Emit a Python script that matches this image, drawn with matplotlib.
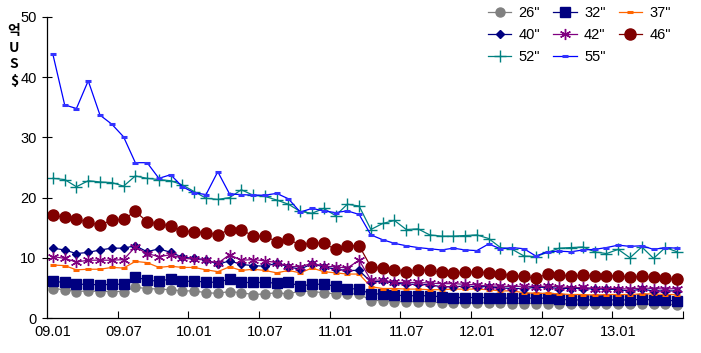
import matplotlib
matplotlib.use("Agg")
import matplotlib.pyplot as plt
from matplotlib.ticker import FixedLocator, NullFormatter, FixedFormatter

months = ["09.01", "09.07", "10.01", "10.07", "11.01", "11.07", "12.01", "12.07", "13.01"]

s26 = [4.9, 4.7, 4.4, 4.5, 4.4, 4.4, 4.4, 5.1, 4.9, 4.8, 4.7, 4.5, 4.5, 4.2, 4.1, 4.4, 4.2, 3.9,
       4.0, 4.2, 4.0, 4.5, 4.4, 4.2, 4.0, 4.0, 4.0, 2.9, 2.9, 2.7, 2.7, 2.7, 2.7, 2.5, 2.5, 2.5,
       2.5, 2.5, 2.5, 2.4, 2.4, 2.4, 2.4, 2.4, 2.3, 2.3, 2.3, 2.3, 2.3, 2.3, 2.3, 2.3, 2.3, 2.2]
s32 = [6.1, 5.9, 5.6, 5.6, 5.5, 5.6, 5.6, 6.8, 6.3, 6.1, 6.5, 6.1, 6.1, 6.0, 5.9, 6.5, 5.9, 5.9,
       5.9, 5.8, 5.9, 5.3, 5.6, 5.6, 5.3, 4.9, 4.8, 4.0, 4.0, 3.8, 3.7, 3.7, 3.7, 3.5, 3.4, 3.4,
       3.4, 3.4, 3.3, 3.3, 3.3, 3.3, 3.3, 3.1, 3.0, 3.0, 3.0, 3.0, 3.0, 3.0, 3.1, 3.0, 3.0, 2.8]
s37 = [8.8, 8.7, 8.0, 8.1, 8.1, 8.4, 8.3, 9.4, 9.2, 8.4, 8.6, 8.4, 8.4, 8.0, 7.7, 8.5, 7.9, 8.1,
       7.9, 7.5, 7.9, 7.5, 8.3, 7.7, 7.5, 7.3, 7.3, 5.2, 4.9, 4.9, 4.8, 4.8, 4.7, 4.7, 4.8, 4.8,
       4.8, 4.7, 4.5, 4.5, 4.2, 4.1, 4.1, 4.0, 3.9, 3.9, 3.8, 3.9, 3.9, 3.9, 4.0, 4.0, 3.9, 3.9]
s40 = [11.6, 11.3, 10.7, 10.9, 11.3, 11.6, 11.6, 12.0, 11.0, 11.5, 10.9, 10.1, 9.9, 9.7, 8.9, 9.5, 8.9, 8.7,
       8.6, 9.1, 8.5, 8.1, 9.0, 8.5, 8.1, 7.9, 7.9, 6.0, 6.1, 5.8, 5.6, 5.6, 5.5, 5.2, 5.2, 5.3,
       5.2, 5.2, 5.0, 4.9, 4.9, 5.1, 5.1, 4.9, 4.9, 4.9, 4.8, 4.8, 4.7, 4.5, 4.8, 4.5, 4.5, 4.5]
s42 = [10.2, 9.9, 9.3, 9.6, 9.6, 9.6, 9.7, 11.8, 10.7, 10.2, 10.5, 9.9, 9.8, 9.6, 9.1, 10.5, 9.6, 9.7,
       9.5, 9.2, 8.6, 8.5, 9.1, 8.6, 8.5, 8.3, 9.6, 6.3, 6.3, 5.9, 5.9, 5.9, 5.8, 5.7, 5.7, 5.6,
       5.5, 5.3, 5.3, 5.2, 5.3, 5.2, 5.3, 5.2, 5.0, 5.1, 4.9, 4.9, 4.9, 4.8, 5.0, 4.9, 4.8, 4.9]
s46 = [17.1, 16.7, 16.4, 15.9, 15.4, 16.3, 16.4, 17.7, 16.0, 15.6, 15.3, 14.5, 14.3, 14.2, 13.8, 14.7, 14.7, 13.6,
       13.6, 12.7, 13.1, 12.1, 12.5, 12.4, 11.4, 12.0, 12.0, 8.5, 8.3, 8.0, 7.7, 8.0, 7.9, 7.6, 7.4, 7.6,
       7.7, 7.5, 7.3, 7.0, 6.9, 6.6, 7.3, 7.1, 7.0, 7.1, 7.0, 7.0, 7.0, 6.8, 6.9, 6.8, 6.6, 6.4]
s52 = [23.2, 23.0, 21.8, 22.8, 22.6, 22.5, 21.9, 23.6, 23.2, 23.0, 22.8, 22.1, 21.0, 19.9, 19.7, 20.0, 21.3, 20.4,
       20.2, 19.6, 18.9, 17.7, 17.4, 18.2, 17.0, 18.9, 18.6, 14.7, 15.7, 16.2, 14.7, 14.8, 13.8, 13.6, 13.6, 13.7,
       13.8, 13.2, 11.7, 11.4, 10.3, 10.2, 10.9, 11.6, 11.7, 11.8, 11.0, 10.7, 11.4, 10.0, 11.8, 9.9, 11.7, 11.0]
s55 = [43.8, 35.4, 34.8, 39.4, 33.7, 32.2, 30.1, 25.8, 25.8, 23.2, 23.8, 21.8, 20.8, 20.5, 24.3, 20.6, 20.5, 20.4,
       20.4, 20.7, 19.8, 17.6, 18.2, 17.8, 17.5, 17.8, 17.2, 13.8, 13.0, 12.4, 12.0, 11.7, 11.5, 11.3, 11.6, 11.3,
       11.2, 12.3, 11.5, 11.7, 11.5, 10.3, 11.0, 11.1, 11.0, 11.3, 11.4, 11.7, 12.1, 11.9, 12.0, 11.4, 11.7, 11.6]

series = [
    ('26"', s26, dict(color="#808080", marker="o", ms=6.5, mec="#808080", mfc="#808080")),
    ('32"', s32, dict(color="#000080", marker="s", ms=6.5, mec="#000080", mfc="#000080")),
    ('37"', s37, dict(color="#FF6600", marker="_", ms=5, mew=2.2, mec="#FF6600")),
    ('40"', s40, dict(color="#000080", marker="D", ms=4.5, mec="#000080", mfc="#000080")),
    ('42"', s42, dict(color="#800080", marker=(6, 2, 0), ms=8, mew=1.0, mec="#800080")),
    ('46"', s46, dict(color="#800000", marker="o", ms=8, mec="#800000", mfc="#800000")),
    ('52"', s52, dict(color="#008080", marker="+", ms=9, mew=1.0, mec="#008080")),
    ('55"', s55, dict(color="#0000FF", marker="_", ms=5, mew=2.2, mec="#3333FF")),
]

plt.rcParams["font.family"] = ["Liberation Sans Narrow", "Liberation Sans", "DejaVu Sans"]

fig = plt.figure(figsize=(7.01, 3.53), dpi=100)
ax = fig.add_axes([47 / 701, 35 / 353, 636 / 701, 301 / 353])

handles = {}
for name, vals, st in series:
    x = list(range(len(vals)))
    (h,) = ax.plot(x, vals, lw=0.9, label=name, **st)
    handles[name] = h

n = len(s55)
ax.set_xlim(-0.5, n - 0.5)
ax.set_ylim(0, 50)
ax.set_yticks([0, 10, 20, 30, 40, 50])
ax.tick_params(axis="y", direction="inout", length=7, width=0.8, labelsize=10.5, pad=4)

ax.xaxis.set_major_locator(FixedLocator([5.5 + 6 * k for k in range(9)]))
ax.xaxis.set_major_formatter(NullFormatter())
ax.xaxis.set_minor_locator(FixedLocator([6 * k for k in range(len(months))]))
ax.xaxis.set_minor_formatter(FixedFormatter(months))
ax.tick_params(axis="x", which="major", direction="in", length=5, width=0.8)
ax.tick_params(axis="x", which="minor", length=0, labelsize=10.5, pad=5)

for side in ("top", "right"):
    ax.spines[side].set_visible(False)
for side in ("left", "bottom"):
    ax.spines[side].set_linewidth(0.9)

order = ['26"', '40"', '52"', '32"', '42"', '55"', '37"', '46"']
leg = ax.legend([handles[k] for k in order], order, ncol=3, loc="upper left",
                bbox_to_anchor=(488 / 701, 1 - 6 / 353), bbox_transform=fig.transFigure,
                frameon=False, fontsize=10.5, handlelength=1.6, handletextpad=0.5,
                columnspacing=0.9, labelspacing=0.55, borderaxespad=0, borderpad=0)

fig.text(14 / 701, 1 - 56 / 353, "억\nU\nS\n$", ha="center", va="center",
         fontsize=10, fontweight="bold", linespacing=1.25,
         family=["Noto Sans CJK KR", "DejaVu Sans"])

fig.savefig("out.png", dpi=100)
